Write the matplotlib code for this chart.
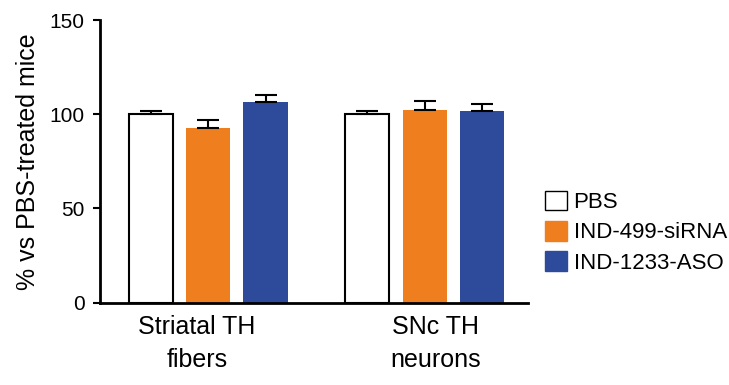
import matplotlib
matplotlib.use("Agg")
import matplotlib.pyplot as plt
from matplotlib.patches import Patch
import numpy as np

plt.rcParams['font.family'] = ['Liberation Sans', 'DejaVu Sans']

groups = ["Striatal TH\nfibers", "SNc TH\nneurons"]
series = ["PBS", "IND-499-siRNA", "IND-1233-ASO"]
values = {
    "PBS": [100.0, 100.0],
    "IND-499-siRNA": [92.8, 102.5],
    "IND-1233-ASO": [106.4, 101.6],
}
errors = {
    "PBS": [2.0, 1.6],
    "IND-499-siRNA": [4.4, 4.4],
    "IND-1233-ASO": [4.1, 3.6],
}
yticks = [0, 50, 100, 150]

facecolors = ["white", "#EF7E1E", "#2E4A9A"]
edgecolors = ["black", "#EF7E1E", "#2E4A9A"]
edgewidths = [1.5, 0, 0]

fig = plt.figure(figsize=(7.29, 3.85), dpi=100)
ax = fig.add_axes([0.1372, 0.2138, 0.587, 0.734])

x = np.arange(len(groups))
offsets = [-0.265, 0.0, 0.265]
width = 0.203
for i, s in enumerate(series):
    ax.bar(x + offsets[i], values[s], width, color=facecolors[i],
           edgecolor=edgecolors[i], linewidth=edgewidths[i], zorder=2)
    ax.errorbar(x + offsets[i], values[s],
                yerr=[np.zeros(len(groups)), errors[s]],
                fmt='none', ecolor='black', elinewidth=1.5, capsize=8,
                capthick=1.5, zorder=3)

ax.set_xlim(-0.498, 1.475)
ax.set_ylim(0, 150)
ax.set_yticks(yticks)
ax.set_yticklabels([str(t) for t in yticks], fontsize=15)
ax.set_xticks(x + np.array([-0.05, 0.05]))
ax.set_xticklabels(groups, fontsize=18, linespacing=1.45)
ax.tick_params(axis='x', length=0, pad=9)
ax.tick_params(axis='y', length=5, width=1.5, pad=6)
for sp in ['top', 'right']:
    ax.spines[sp].set_visible(False)
for sp in ['left', 'bottom']:
    ax.spines[sp].set_linewidth(2)
ax.set_ylabel("% vs PBS-treated mice", fontsize=18, labelpad=7)

handles = [Patch(facecolor=facecolors[i], edgecolor=('black' if i == 0 else facecolors[i]),
                 linewidth=1.0) for i in range(3)]
fig.legend(handles, series, loc='center left', bbox_to_anchor=(0.735, 0.397),
           frameon=False, fontsize=16, handlelength=1.0, handleheight=1.0,
           handletextpad=0.3, labelspacing=0.35, borderaxespad=0)

fig.savefig("out.png", dpi=100)
